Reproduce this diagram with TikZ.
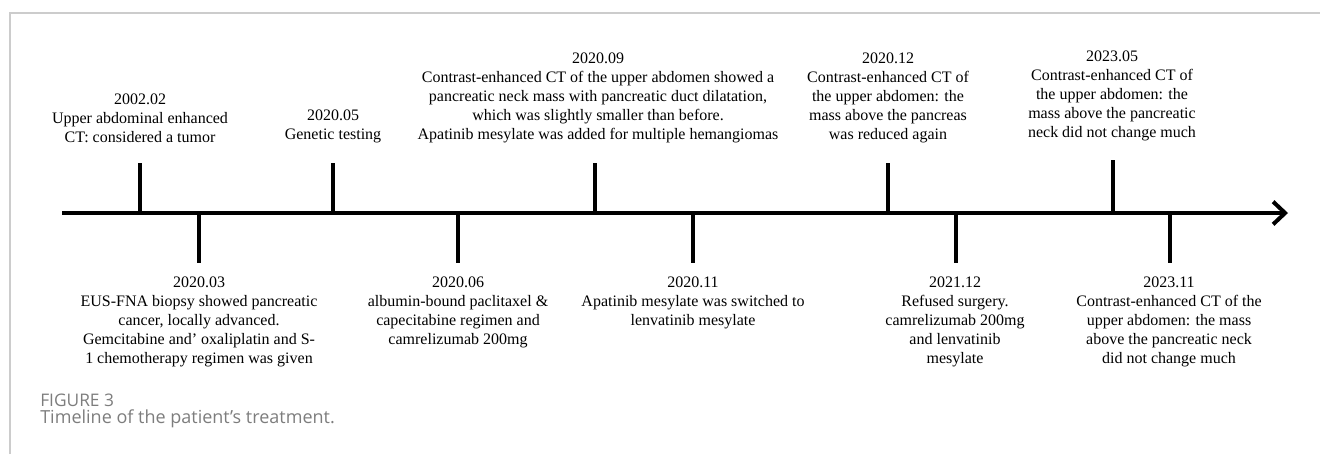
\documentclass[tikz,border=0pt]{standalone}
\usepackage{fontspec}
\setmainfont{Liberation Serif}
\newfontfamily\capfont{Open Sans}
\usepackage{xcolor}
\usetikzlibrary{arrows.meta}
\definecolor{frm}{RGB}{204,204,204}
\definecolor{capgry}{RGB}{125,125,125}
\tikzset{
  tickline/.style={line width=3pt},
  toplbl/.style={anchor=south,inner sep=0pt,align=center,font=\fontsize{12}{14.25}\selectfont},
  botlbl/.style={anchor=north,inner sep=0pt,align=center,font=\fontsize{12}{14.25}\selectfont}
}

\begin{document}
\begin{tikzpicture}[x=0.75pt,y=-0.75pt]
  \useasboundingbox (0,0) rectangle (1320,454);
  \draw[frm,line width=1pt] (10,454) -- (10,13) -- (1320,13);

  \coordinate (start) at (62,213);
  \coordinate (end) at (1288,213);
  \draw[line width=3pt,-{Straight Barb[length=9pt,width=17pt]}] (start) -- (end);

  \coordinate (a1) at (140,213);  \coordinate (t1) at (140,163);
  \draw[tickline] (a1) -- (t1);
  \node[toplbl] (l1) at (140,143) {2002.02\\Upper abdominal enhanced\\CT: considered a tumor};
  \coordinate (a2) at (199,213);  \coordinate (t2) at (199,263);
  \draw[tickline] (a2) -- (t2);
  \node[botlbl] (l2) at (199,277) {2020.03\\EUS-FNA biopsy showed pancreatic\\cancer, locally advanced.\\Gemcitabine and’ oxaliplatin and S-\\1 chemotherapy regimen was given};
  \coordinate (a3) at (333,213);  \coordinate (t3) at (333,163);
  \draw[tickline] (a3) -- (t3);
  \node[toplbl] (l3) at (333,143) {2020.05\\Genetic testing};
  \coordinate (a4) at (458,213);  \coordinate (t4) at (458,263);
  \draw[tickline] (a4) -- (t4);
  \node[botlbl] (l4) at (458,277) {2020.06\\albumin-bound paclitaxel \&\\capecitabine regimen and\\camrelizumab 200mg};
  \coordinate (a5) at (595,213);  \coordinate (t5) at (595,163);
  \draw[tickline] (a5) -- (t5);
  \node[toplbl] (l5) at (598,143) {2020.09\\Contrast-enhanced CT of the upper abdomen showed a\\pancreatic neck mass with pancreatic duct dilatation,\\which was slightly smaller than before.\\Apatinib mesylate was added for multiple hemangiomas};
  \coordinate (a6) at (693,213);  \coordinate (t6) at (693,263);
  \draw[tickline] (a6) -- (t6);
  \node[botlbl] (l6) at (693,277) {2020.11\\Apatinib mesylate was switched to\\lenvatinib mesylate};
  \coordinate (a7) at (888,213);  \coordinate (t7) at (888,163);
  \draw[tickline] (a7) -- (t7);
  \node[toplbl] (l7) at (888,143) {2020.12\\Contrast-enhanced CT of\\the upper abdomen: the\\mass above the pancreas\\was reduced again};
  \coordinate (a8) at (956,213);  \coordinate (t8) at (956,263);
  \draw[tickline] (a8) -- (t8);
  \node[botlbl] (l8) at (955,277) {2021.12\\Refused surgery.\\camrelizumab 200mg\\and lenvatinib\\mesylate};
  \coordinate (a9) at (1113,213);  \coordinate (t9) at (1113,160);
  \draw[tickline] (a9) -- (t9);
  \node[toplbl] (l9) at (1112,141) {2023.05\\Contrast-enhanced CT of\\the upper abdomen: the\\mass above the pancreatic\\neck did not change much};
  \coordinate (a10) at (1170,213);  \coordinate (t10) at (1170,263);
  \draw[tickline] (a10) -- (t10);
  \node[botlbl] (l10) at (1169,277) {2023.11\\Contrast-enhanced CT of the\\upper abdomen: the mass\\above the pancreatic neck\\did not change much};

  \node[anchor=west,inner sep=0pt,text=capgry,font=\capfont\fontsize{13}{14}\selectfont] (fig) at (40,400) {FIGURE 3};
  \node[anchor=west,inner sep=0pt,text=capgry,font=\capfont\fontsize{13.5}{16}\selectfont] (cap) at (40,419) {Timeline of the patient’s treatment.};
\end{tikzpicture}
\end{document}
